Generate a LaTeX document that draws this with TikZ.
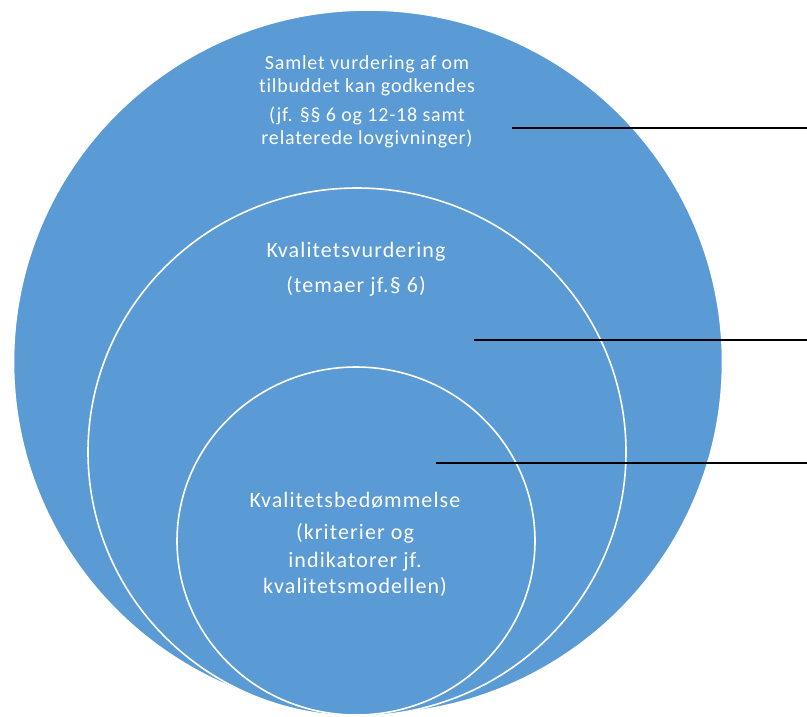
\documentclass[tikz,border=0pt]{standalone}
\usepackage{fontspec}
\setmainfont{Carlito}
\newfontfamily\outertext[LetterSpace=4,Ligatures={NoCommon,NoContextual}]{Carlito}
\newfontfamily\innertext[LetterSpace=5,Ligatures={NoCommon,NoContextual}]{Carlito}
\usetikzlibrary{shapes.geometric}
\definecolor{circblue}{HTML}{5B9BD5}
\begin{document}
\begin{tikzpicture}[x=1pt,y=-1pt,
  ring/.style={ellipse, draw=white, line width=1.6pt, fill=circblue, inner sep=0pt},
  lblA/.style={text=white, anchor=base, inner sep=0pt, font=\outertext\fontsize{20}{23}\selectfont},
  lblB/.style={text=white, anchor=base, inner sep=0pt, font=\innertext\fontsize{22}{27}\selectfont},
  leader/.style={draw=black, line width=2.3pt}
]
\useasboundingbox (0,0) rectangle (807,716);
\node[ring, minimum width=709pt, minimum height=704pt] (outer) at (368,362) {};
\node[ring, minimum width=538pt, minimum height=528pt] (middle) at (357,452) {};
\node[ring, minimum width=358pt, minimum height=348pt] (inner) at (356,541) {};

\node[lblA] (o1) at (367,69) {Samlet vurdering af om};
\node[lblA] (o2) at (367,92) {tilbuddet kan godkendes};
\node[lblA] (o3) at (367,121) {(jf. §§ 6 og 12-18 samt};
\node[lblA] (o4) at (367,144) {relaterede lovgivninger)};

\node[lblB] (m1) at (356,257) {Kvalitetsvurdering};
\node[lblB] (m2) at (356,292) {(temaer jf.§ 6)};

\node[lblB] (i1) at (355,507) {Kvalitetsbedømmelse};
\node[lblB] (i2) at (355,539) {(kriterier og};
\node[lblB] (i3) at (355,567) {indikatorer jf.};
\node[lblB] (i4) at (355,593) {kvalitetsmodellen)};

\coordinate (s1) at (512,128);
\coordinate (e1) at (807,128);
\coordinate (s2) at (474,340);
\coordinate (e2) at (807,340);
\coordinate (s3) at (436,463);
\coordinate (e3) at (807,463);
\draw[leader] (s1) -- (e1);
\draw[leader] (s2) -- (e2);
\draw[leader] (s3) -- (e3);
\end{tikzpicture}
\end{document}
